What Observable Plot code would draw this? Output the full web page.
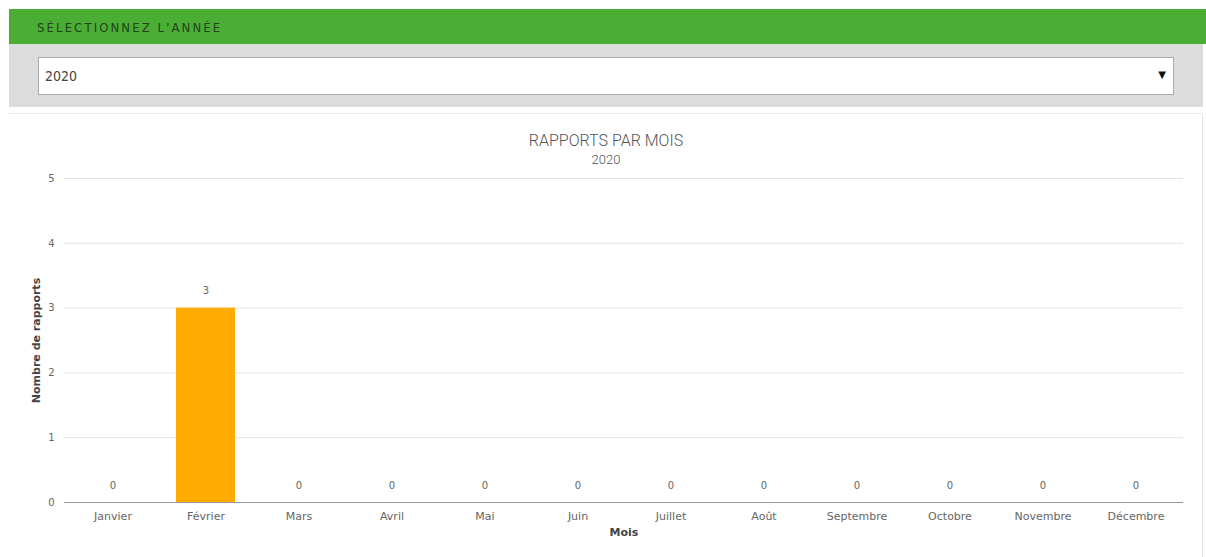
<!DOCTYPE html>
<html>
<head>
<meta charset="utf-8">
<script src="https://cdn.jsdelivr.net/npm/d3@7"></script>
<script src="https://cdn.jsdelivr.net/npm/@observablehq/plot@0.6"></script>
<style>
  html, body { margin: 0; padding: 0; background: #ffffff; width: 1206px; height: 557px; overflow: hidden; position: relative; }
  .hdr { position: absolute; left: 9px; top: 9px; width: 1197px; height: 35px; background: #4aae34; }
  .hdr span { position: absolute; left: 28px; top: 11px; font-family: "DejaVu Sans Condensed", "Liberation Sans Narrow", Roboto, sans-serif; font-stretch: condensed; font-size: 13px; letter-spacing: 2.1px; color: #24421c; }
  .band { position: absolute; left: 9px; top: 44px; width: 1194px; height: 63px; background: #dcdcdc; }
  .sel { position: absolute; left: 29px; top: 13px; width: 1136px; height: 38px; background: #fff; border: 1px solid #aaa; box-sizing: border-box; }
  .sel .v { position: absolute; left: 6px; top: 10px; font-family: "DejaVu Sans Condensed", Roboto, sans-serif; font-stretch: condensed; font-size: 14px; color: #444; }
  .sel .a { position: absolute; right: 7px; top: 11px; font-family: "DejaVu Sans", sans-serif; font-size: 10px; color: #111; }
  .panel { position: absolute; left: 9px; top: 113px; width: 1194px; height: 450px; border-top: 1px solid #e8e8e8; border-right: 1px solid #e3e3e3; box-sizing: border-box; background: #fff; }
  .title { position: absolute; left: 9px; width: 1194px; text-align: center; font-family: Roboto, "Noto Sans", sans-serif; font-weight: 300; color: #555; }
  #chart { position: absolute; left: 9px; top: 168px; }
</style>
</head>
<body>
<div class="hdr"><span>SÉLECTIONNEZ L'ANNÉE</span></div>
<div class="band"><div class="sel"><span class="v">2020</span><span class="a">▼</span></div></div>
<div class="panel"></div>
<div class="title" style="top:131px;font-size:16px;">RAPPORTS PAR MOIS</div>
<div class="title" style="top:152px;font-size:13px;">2020</div>
<div id="chart"></div>
<script>
const months = ["Janvier","Février","Mars","Avril","Mai","Juin","Juillet","Août","Septembre","Octobre","Novembre","Décembre"];
const counts = [0,3,0,0,0,0,0,0,0,0,0,0];
const yTicks = [0,1,2,3,4,5];
const xLabel = "Mois";
const yLabel = "Nombre de rapports";

const data = months.map((m, i) => ({month: m, value: counts[i]}));

const chart = Plot.plot({
  width: 1194,
  height: 389,
  marginLeft: 55,
  marginRight: 20,
  marginTop: 10,
  marginBottom: 55,
  style: {fontFamily: "'DejaVu Sans', Verdana, sans-serif", fontSize: "10px", color: "#666", background: "transparent"},
  x: {domain: months, paddingInner: 0.367, paddingOuter: 0.1835, label: null},
  y: {domain: [0, 5], label: null},
  marks: [
    Plot.ruleY(yTicks.filter(d => d > 0), {stroke: "#e3e3e3", strokeWidth: 1}),
    Plot.barY(data, {x: "month", y: "value", fill: "#ffab00"}),
    Plot.ruleY([0], {stroke: "#999", strokeWidth: 1}),
    Plot.axisX({tickSize: 0, tickPadding: 10, fontSize: 11, fill: "#666", label: null}),
    Plot.axisY({ticks: yTicks, tickFormat: "d", tickSize: 0, tickPadding: 10, fontSize: 10, fill: "#666", label: null}),
    Plot.text(data, {x: "month", y: "value", text: d => String(d.value), dy: -17, fill: "#666", fontSize: 10}),
    Plot.text([xLabel], {frameAnchor: "bottom", dy: 33, text: d => d, fontWeight: "bold", fill: "#444", fontSize: 11}),
    Plot.text([yLabel], {frameAnchor: "left", textAnchor: "middle", dx: -28, rotate: -90, text: d => d, fontWeight: "bold", fill: "#444", fontSize: 11})
  ]
});
document.getElementById("chart").appendChild(chart);
</script>
</body>
</html>
